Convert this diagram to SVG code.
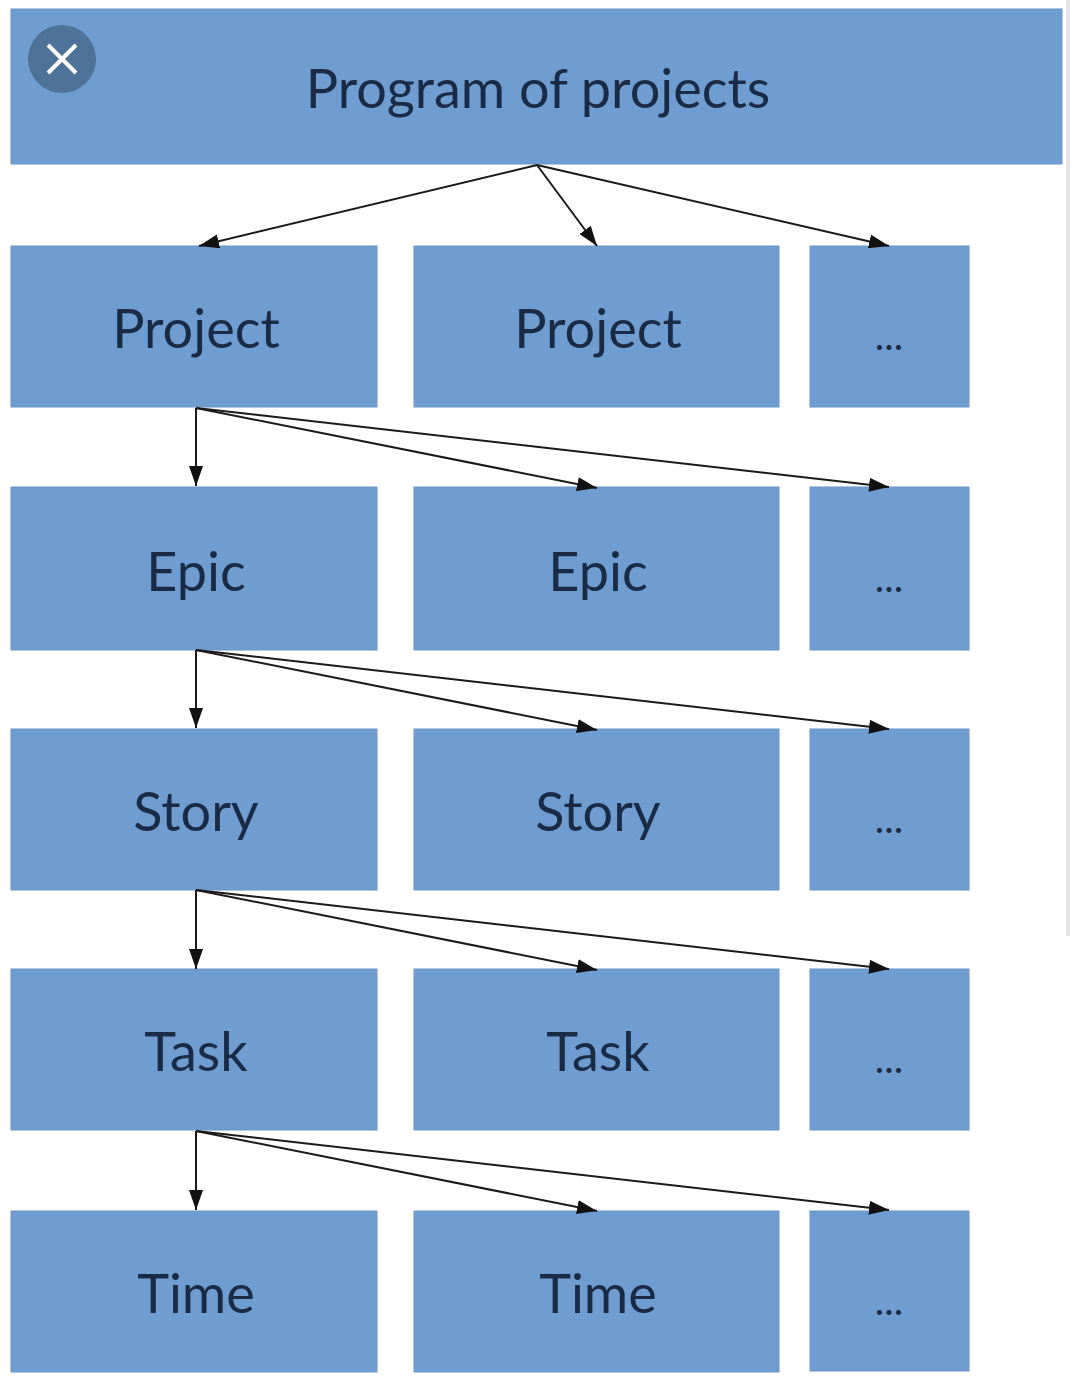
<svg xmlns="http://www.w3.org/2000/svg" width="1080" height="1400" viewBox="0 0 1080 1400">
<style>
.n{fill:#709dd1;stroke:#6b96c8;stroke-width:1}
.t{font-family:Lato,"Liberation Sans",sans-serif;font-size:54px;fill:#1b2b45;text-anchor:middle}
.d{font-family:Lato,"Liberation Sans",sans-serif;font-size:40px;fill:#1b2b45;text-anchor:middle}
.c{fill:none;stroke:#1a1a1a;stroke-width:2;marker-end:url(#a)}
</style>
<defs><marker id="a" markerUnits="userSpaceOnUse" markerWidth="22" markerHeight="16" refX="20" refY="7" orient="auto"><path d="M0 0L20 7L0 14Z" fill="#111"/></marker></defs>
<rect width="1080" height="1400" fill="#fff"/>
<g id="program"><rect class="n" x="11" y="9" width="1051" height="155"/><text class="t" x="538" y="108">Program of projects</text></g>
<g id="project1"><rect class="n" x="11" y="246" width="366" height="161"/><text class="t" x="196" y="348">Project</text></g>
<g id="project2"><rect class="n" x="414" y="246" width="365" height="161"/><text class="t" x="598" y="348">Project</text></g>
<g id="project3"><rect class="n" x="810" y="246" width="159" height="161"/><text class="d" x="889" y="350">...</text></g>
<g id="epic1"><rect class="n" x="11" y="487" width="366" height="163"/><text class="t" x="196" y="591">Epic</text></g>
<g id="epic2"><rect class="n" x="414" y="487" width="365" height="163"/><text class="t" x="598" y="591">Epic</text></g>
<g id="epic3"><rect class="n" x="810" y="487" width="159" height="163"/><text class="d" x="889" y="592">...</text></g>
<g id="story1"><rect class="n" x="11" y="729" width="366" height="161"/><text class="t" x="196" y="831">Story</text></g>
<g id="story2"><rect class="n" x="414" y="729" width="365" height="161"/><text class="t" x="598" y="831">Story</text></g>
<g id="story3"><rect class="n" x="810" y="729" width="159" height="161"/><text class="d" x="889" y="833">...</text></g>
<g id="task1"><rect class="n" x="11" y="969" width="366" height="161"/><text class="t" x="196" y="1071">Task</text></g>
<g id="task2"><rect class="n" x="414" y="969" width="365" height="161"/><text class="t" x="598" y="1071">Task</text></g>
<g id="task3"><rect class="n" x="810" y="969" width="159" height="161"/><text class="d" x="889" y="1073">...</text></g>
<g id="time1"><rect class="n" x="11" y="1211" width="366" height="161"/><text class="t" x="196" y="1313">Time</text></g>
<g id="time2"><rect class="n" x="414" y="1211" width="365" height="161"/><text class="t" x="598" y="1313">Time</text></g>
<g id="time3"><rect class="n" x="810" y="1211" width="159" height="160"/><text class="d" x="889" y="1315">...</text></g>
<g id="connectors">
<path class="c" d="M537 165L199 246"/><path class="c" d="M537 165L597 246"/><path class="c" d="M537 165L889 246"/>
<path class="c" d="M196 408V486"/><path class="c" d="M196 408L597 488"/><path class="c" d="M196 408L889 487"/>
<path class="c" d="M196 650V728"/><path class="c" d="M196 650L597 730"/><path class="c" d="M196 650L889 729"/>
<path class="c" d="M196 890V969"/><path class="c" d="M196 890L597 970"/><path class="c" d="M196 890L889 969"/>
<path class="c" d="M196 1131V1210"/><path class="c" d="M196 1131L597 1211"/><path class="c" d="M196 1131L889 1210"/>
</g>
<g id="close"><circle cx="62" cy="59" r="34" fill="#4f7298"/><path d="M48 45L76 73M76 45L48 73" stroke="#fff" stroke-width="4" fill="none"/></g>
<rect x="1066" y="0" width="4" height="936" fill="#e4e4e4"/>
</svg>
